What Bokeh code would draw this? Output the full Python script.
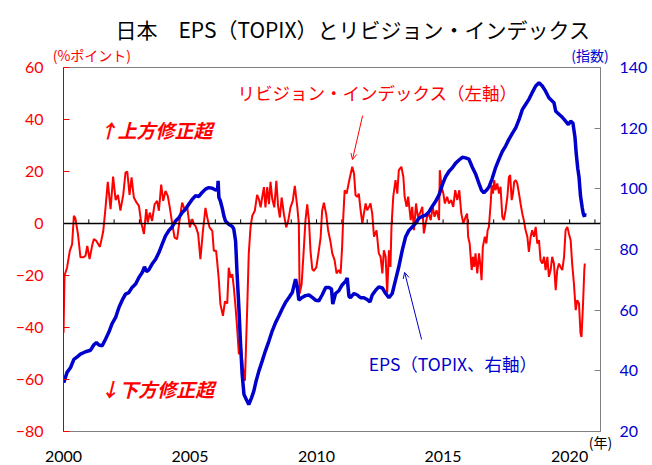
from bokeh.plotting import figure
from bokeh.models import Range1d, LinearAxis, FixedTicker, Span, Label, Arrow, OpenHead
from bokeh.embed import file_html
from bokeh.resources import INLINE

# ---- data ----
# Revision index (left axis, %pt): (year, value)
rev_points = [
    (2000.00, -42), (2000.04, -20), (2000.14, -17), (2000.25, -10.5), (2000.34, -8), (2000.41, 3),
    (2000.47, 2), (2000.57, -4), (2000.67, -13), (2000.78, -13), (2000.87, -12.4), (2000.94, -8.6),
    (2001.03, -13.7), (2001.13, -8.6), (2001.20, -6), (2001.30, -6.7), (2001.44, -9), (2001.57, -3),
    (2001.66, 6), (2001.75, 16), (2001.86, 5.5), (2001.96, 18), (2002.06, 9), (2002.15, 11),
    (2002.25, 5), (2002.36, 11), (2002.45, 19.6), (2002.52, 20), (2002.61, 11), (2002.69, 17.7),
    (2002.78, 10), (2002.89, 8), (2002.98, 6.8), (2003.07, 0.4), (2003.18, -4), (2003.27, 5.5),
    (2003.33, 0.4), (2003.41, 4.2), (2003.50, 1), (2003.60, 7.4), (2003.70, 8.7), (2003.77, 4.9),
    (2003.86, 15), (2003.94, 8.7), (2004.03, 12.5), (2004.12, 10.6), (2004.20, 6.2), (2004.30, -0.3),
    (2004.39, -5.4), (2004.49, -6), (2004.60, 2.3), (2004.69, 8), (2004.78, 5.5), (2004.89, 6.2),
    (2004.99, -1.5), (2005.09, 1.7), (2005.15, -0.3), (2005.22, -1), (2005.32, -4), (2005.41, -13.7),
    (2005.51, -2.8), (2005.61, 6), (2005.68, 2.3), (2005.77, -1.5), (2005.88, -2.8), (2005.94, -10.5),
    (2006.03, -10.5), (2006.07, -14.4), (2006.14, -22), (2006.20, -31), (2006.30, -35.5), (2006.38, -30),
    (2006.47, -30.8), (2006.53, -17), (2006.60, -20.8), (2006.67, -19.5), (2006.73, -24.6), (2006.80, -32.3),
    (2006.86, -40), (2006.93, -50.3), (2006.99, -45.1), (2007.09, -55.4), (2007.17, -60.5), (2007.26, -32.3),
    (2007.32, -11.8), (2007.39, -1.5), (2007.46, 3), (2007.56, 4.9), (2007.65, 11), (2007.72, 9.4),
    (2007.79, 6.2), (2007.85, 10), (2007.92, 14), (2007.98, 6.2), (2008.05, 14), (2008.12, 7.4),
    (2008.18, 16), (2008.25, 9.4), (2008.33, 6.2), (2008.41, 16.4), (2008.48, 6.7), (2008.55, 2.3),
    (2008.62, 10), (2008.71, 3.6), (2008.80, -1.5), (2008.88, 1), (2008.97, 6.2), (2009.06, 8.7),
    (2009.14, 14.5), (2009.24, 6.2), (2009.30, -0.3), (2009.33, -27), (2009.41, -23.3), (2009.50, -9.2),
    (2009.56, 1), (2009.63, 7.4), (2009.70, 1), (2009.76, -10.5), (2009.83, -17.5), (2009.89, -18.2),
    (2009.99, -16.9), (2010.07, -11.8), (2010.16, -5.4), (2010.22, 4.9), (2010.29, 8), (2010.38, 3.6),
    (2010.46, -2.8), (2010.55, -7), (2010.62, -11.5), (2010.71, -14), (2010.79, -19.2), (2010.88, -17.9),
    (2010.95, -19.2), (2011.01, -9), (2011.05, 1.3), (2011.11, 12.8), (2011.19, 11.5), (2011.24, 14.1),
    (2011.32, 17.9), (2011.41, 21.8), (2011.48, 19.2), (2011.54, 10.9), (2011.61, 10.3), (2011.67, 11.5),
    (2011.74, 5.1), (2011.81, 0), (2011.87, 3.8), (2011.94, 7.7), (2012.00, 5.1), (2012.07, 6.4),
    (2012.13, 7.7), (2012.20, 3.8), (2012.27, -5.1), (2012.37, -2.6), (2012.46, -11.5), (2012.53, -12.8),
    (2012.60, -19.2), (2012.66, -10.3), (2012.73, -12.8), (2012.79, -26.9), (2012.86, -10.3), (2012.92, -16.7),
    (2012.96, -1.3), (2013.03, 10.3), (2013.12, 16.7), (2013.19, 11.5), (2013.25, 20.5), (2013.35, 21.8),
    (2013.43, 17.9), (2013.48, 10.3), (2013.56, 6.4), (2013.62, 10.3), (2013.72, 1.3), (2013.78, 6.4),
    (2013.85, -2.6), (2013.93, 7.7), (2014.00, 2.6), (2014.08, 3.8), (2014.18, 6.4), (2014.24, -3.8),
    (2014.31, 0), (2014.37, 2.6), (2014.44, 3.8), (2014.51, 1.3), (2014.59, 6.4), (2014.66, 2.6),
    (2014.74, 5.1), (2014.84, 1.3), (2014.87, 20.5), (2014.94, 14.1), (2015.01, 11.5), (2015.07, 7.7),
    (2015.16, 10.3), (2015.23, 7.7), (2015.32, 9), (2015.40, 6.4), (2015.48, 12.8), (2015.56, 9),
    (2015.64, 12.8), (2015.72, 3.8), (2015.80, 0), (2015.89, 2.6), (2015.95, 3.8), (2015.99, -5.1),
    (2016.05, -7.7), (2016.13, -17.9), (2016.18, -12.8), (2016.23, -16.7), (2016.28, -11.5), (2016.35, -19.2),
    (2016.42, -11.5), (2016.48, -16.7), (2016.52, -21.8), (2016.57, -9), (2016.65, -5.1), (2016.71, -7.7),
    (2016.76, -2.6), (2016.81, -1.3), (2016.88, 7.7), (2016.92, 14.7), (2016.97, 11.5), (2017.02, 16.7),
    (2017.07, 12.8), (2017.14, 15.4), (2017.21, 11.5), (2017.27, 14.1), (2017.34, 2.6), (2017.40, 1.3),
    (2017.47, 5.1), (2017.54, 10.3), (2017.60, 17.9), (2017.65, 18.6), (2017.71, 9), (2017.76, 11.5),
    (2017.81, 16.0), (2017.87, 16.7), (2017.93, 15.4), (2018.00, 11.5), (2018.06, 7.7), (2018.13, 3.8),
    (2018.19, 1.3), (2018.26, -2.6), (2018.33, -5.1), (2018.39, -10.9), (2018.46, -5.1), (2018.52, -2.6),
    (2018.59, -5.1), (2018.66, -1.3), (2018.72, -7.7), (2018.79, -6.4), (2018.85, -14.1), (2018.92, -15.4),
    (2018.99, -12.8), (2019.05, -17.9), (2019.12, -12.8), (2019.18, -20.5), (2019.25, -17.9), (2019.31, -12.8),
    (2019.38, -15.4), (2019.45, -25.6), (2019.51, -17.9), (2019.58, -15.4), (2019.64, -16.7), (2019.71, -17.9),
    (2019.78, -12.8), (2019.84, -2.6), (2019.91, -1.3), (2019.97, -3.8), (2020.04, -6.4), (2020.10, -15.4),
    (2020.17, -23.1), (2020.24, -33.3), (2020.30, -29.5), (2020.37, -30.8), (2020.43, -42.3), (2020.47, -43.6),
    (2020.53, -30.8), (2020.58, -17.9), (2020.60, -15.4),
]
rev_year = [pt[0] for pt in rev_points]
rev_val = [pt[1] for pt in rev_points]

# EPS (TOPIX), right axis index: (year, value)
eps_points = [
    (2000.01, 36.1), (2000.14, 39.5), (2000.28, 41.1), (2000.41, 43.8), (2000.54, 44.6), (2000.67, 45.5),
    (2000.87, 46.3), (2001.07, 46.8), (2001.20, 48.6), (2001.30, 49.3), (2001.40, 48.5), (2001.53, 48.3),
    (2001.66, 50.4), (2001.79, 52.7), (2001.92, 55.6), (2002.06, 57.6), (2002.19, 60.9), (2002.32, 63.3),
    (2002.45, 65.3), (2002.58, 65.8), (2002.71, 67.5), (2002.85, 68.6), (2002.98, 70.8), (2003.11, 72.4),
    (2003.20, 74.3), (2003.28, 72.7), (2003.37, 73.3), (2003.50, 75.2), (2003.64, 76.8), (2003.77, 79.0),
    (2003.90, 81.8), (2004.03, 84.5), (2004.16, 86.2), (2004.30, 87.5), (2004.43, 89.4), (2004.56, 90.5),
    (2004.69, 92.2), (2004.82, 93.3), (2004.95, 94.9), (2005.09, 96.6), (2005.22, 97.7), (2005.35, 97.5),
    (2005.48, 98.8), (2005.61, 99.9), (2005.74, 100.4), (2005.88, 100.2), (2006.01, 99.6), (2006.09, 99.8),
    (2006.11, 102.6), (2006.14, 97.2), (2006.20, 96.0), (2006.27, 93.7), (2006.34, 91.0), (2006.40, 89.4),
    (2006.53, 88.3), (2006.67, 87.6), (2006.73, 86.7), (2006.80, 82.8), (2006.86, 71.9), (2006.93, 60.9),
    (2006.99, 49.9), (2007.06, 38.9), (2007.13, 32.3), (2007.22, 30.6), (2007.32, 28.9), (2007.43, 31.1),
    (2007.52, 33.3), (2007.61, 36.6), (2007.72, 39.9), (2007.85, 43.2), (2007.98, 46.6), (2008.12, 49.9),
    (2008.25, 53.2), (2008.38, 55.9), (2008.51, 58.1), (2008.64, 60.4), (2008.77, 62.5), (2008.91, 64.2),
    (2009.04, 65.8), (2009.17, 70.2), (2009.24, 67.5), (2009.30, 63.3), (2009.43, 64.2), (2009.56, 64.8),
    (2009.70, 65.0), (2009.83, 64.2), (2009.96, 63.3), (2010.09, 63.1), (2010.22, 65.0), (2010.36, 67.5),
    (2010.49, 67.5), (2010.59, 67.0), (2010.64, 62.0), (2010.75, 65.5), (2010.88, 66.4), (2011.01, 68.3),
    (2011.15, 69.6), (2011.21, 70.6), (2011.28, 64.6), (2011.34, 64.1), (2011.48, 65.5), (2011.61, 65.0),
    (2011.74, 64.1), (2011.87, 64.1), (2012.00, 63.5), (2012.11, 62.7), (2012.20, 65.0), (2012.33, 66.5),
    (2012.46, 67.7), (2012.60, 67.3), (2012.73, 65.5), (2012.86, 64.1), (2012.99, 65.5), (2013.12, 69.9),
    (2013.25, 74.3), (2013.39, 79.9), (2013.52, 84.2), (2013.65, 86.3), (2013.78, 87.4), (2013.91, 88.6),
    (2014.04, 90.3), (2014.18, 91.0), (2014.31, 91.3), (2014.44, 92.4), (2014.57, 94.2), (2014.70, 95.8),
    (2014.84, 98.0), (2014.97, 101.3), (2015.10, 104.0), (2015.23, 105.7), (2015.36, 106.9), (2015.49, 108.4),
    (2015.63, 109.5), (2015.76, 110.4), (2015.89, 110.2), (2016.02, 109.8), (2016.15, 107.2), (2016.28, 105.0),
    (2016.42, 101.7), (2016.52, 99.5), (2016.61, 98.7), (2016.71, 99.5), (2016.81, 100.6), (2016.94, 103.4),
    (2017.07, 106.9), (2017.21, 109.8), (2017.34, 112.3), (2017.47, 114.1), (2017.60, 116.3), (2017.73, 118.2),
    (2017.87, 120.1), (2018.00, 122.8), (2018.13, 126.1), (2018.26, 127.8), (2018.39, 129.5), (2018.52, 131.7),
    (2018.66, 133.9), (2018.79, 135.0), (2018.92, 133.9), (2019.05, 132.2), (2019.18, 130.0), (2019.38, 128.4),
    (2019.45, 125.6), (2019.58, 124.6), (2019.71, 123.6), (2019.84, 122.3), (2019.95, 121.2), (2020.04, 122.3),
    (2020.13, 121.7), (2020.21, 117.1), (2020.26, 111.7), (2020.32, 106.8), (2020.37, 104.0), (2020.43, 97.6),
    (2020.50, 93.7), (2020.54, 91.8), (2020.59, 90.8), (2020.60, 92.0),
]
eps_year = [pt[0] for pt in eps_points]
eps_val = [pt[1] for pt in eps_points]

left_ticks = [-80, -60, -40, -20, 0, 20, 40, 60]
right_ticks = [20, 40, 60, 80, 100, 120, 140]
year_labels = [2000, 2005, 2010, 2015, 2020]
year_ticks = list(range(2001, 2022))
unit_left_at = 2001.12

TITLE = "日本　EPS（TOPIX）とリビジョン・インデックス"
UNIT_LEFT = "(%ポイント)"
UNIT_RIGHT = "(指数)\u3000\u2002"
UNIT_X = "(年)"
RED = "#ff0000"
BLUE = "#0000cc"
JP = "Noto Sans CJK JP"
NUM = "Lato"

p = figure(width=652, height=465, output_backend="svg", toolbar_location=None,
           x_range=Range1d(2000, 2021.22), y_range=Range1d(-80, 60),
           min_border_left=63, min_border_right=52, min_border_top=67, min_border_bottom=34,
           background_fill_color="white", border_fill_color="white")
p.title.text = TITLE
p.title.text_font = JP
p.title.text_font_size = "21px"
p.title.text_font_style = "normal"
p.title.text_color = "black"
p.title.align = "left"
p.title.offset = 52
p.title.standoff = -5
p.xgrid.visible = False
p.ygrid.visible = False
p.outline_line_color = "#808080"
p.outline_line_width = 1

# bottom axis (labels only) + unit "(年)"
p.xaxis.ticker = FixedTicker(ticks=year_labels)
p.xaxis.major_tick_in = 0
p.xaxis.major_tick_out = 0
p.xaxis.minor_tick_line_color = None
p.xaxis.axis_line_color = "#808080"
p.xaxis.major_label_text_color = "black"
p.xaxis.major_label_text_font = NUM
p.xaxis.major_label_text_font_size = "16px"
p.xaxis.major_label_standoff = 19
p.xaxis.axis_label = UNIT_X
p.xaxis.axis_label_text_font = JP
p.xaxis.axis_label_text_font_size = "14px"
p.xaxis.axis_label_text_font_style = "normal"
p.xaxis.axis_label_text_color = "black"
p.xaxis.axis_label_align = "end"
p.xaxis.axis_label_standoff = -33

# top helper axis carrying the unit labels
ax_t = LinearAxis(ticker=FixedTicker(ticks=[unit_left_at]),
                  major_label_overrides={unit_left_at: UNIT_LEFT})
ax_t.axis_line_color = None
ax_t.major_tick_line_color = None
ax_t.minor_tick_line_color = None
ax_t.major_tick_in = 0
ax_t.major_tick_out = 0
ax_t.major_label_standoff = 3
ax_t.major_label_text_color = RED
ax_t.major_label_text_font = JP
ax_t.major_label_text_font_size = "14px"
ax_t.axis_label = UNIT_RIGHT
ax_t.axis_label_text_color = BLUE
ax_t.axis_label_text_font = JP
ax_t.axis_label_text_font_size = "14px"
ax_t.axis_label_text_font_style = "normal"
ax_t.axis_label_align = "end"
ax_t.axis_label_standoff = -23
p.add_layout(ax_t, "above")

# left axis
p.yaxis.ticker = FixedTicker(ticks=left_ticks)
p.yaxis.major_tick_in = 6
p.yaxis.major_tick_out = 0
p.yaxis.minor_tick_line_color = None
p.yaxis.axis_line_color = "#c00000"
p.yaxis.major_tick_line_color = RED
p.yaxis.major_label_text_color = RED
p.yaxis.major_label_text_font = NUM
p.yaxis.major_label_text_font_size = "16px"
p.yaxis.major_label_standoff = 20

# right axis
p.extra_y_ranges = {"eps": Range1d(20, 140)}
ax_r = LinearAxis(y_range_name="eps", ticker=FixedTicker(ticks=right_ticks))
ax_r.major_tick_in = 6
ax_r.major_tick_out = 0
ax_r.minor_tick_line_color = None
ax_r.axis_line_color = "#808080"
ax_r.major_tick_line_color = "#808080"
ax_r.major_label_text_color = BLUE
ax_r.major_label_text_font = NUM
ax_r.major_label_text_font_size = "16px"
ax_r.major_label_standoff = 19
p.add_layout(ax_r, "right")

# zero line with yearly ticks
p.add_layout(Span(location=0, dimension="width", line_color="black", line_width=1.5))
p.segment(x0=year_ticks, y0=[0] * len(year_ticks), x1=year_ticks, y1=[1.6] * len(year_ticks),
          line_color="black", line_width=1)

# series
p.line(rev_year, rev_val, line_color=RED, line_width=2)
p.line(eps_year, eps_val, y_range_name="eps", line_color=BLUE, line_width=3.5)

# annotations inside the frame
p.add_layout(Label(x=2006.88, y=50.4, text="リビジョン・インデックス（左軸）", text_align="left",
                   text_baseline="middle", text_font=JP, text_font_size="17.5px", text_color=RED))
p.add_layout(Label(x=2001.38, y=36.3, text="↑上方修正超", text_align="left",
                   text_baseline="middle", text_font=JP, text_font_size="19px",
                   text_font_style="bold italic", text_color=RED))
p.add_layout(Label(x=2001.45, y=-63.5, text="↓下方修正超", text_align="left",
                   text_baseline="middle", text_font=JP, text_font_size="19px",
                   text_font_style="bold italic", text_color=RED))
p.add_layout(Label(x=2012.06, y=-53.8, text="EPS（TOPIX、右軸）", text_align="left",
                   text_baseline="middle", text_font=JP, text_font_size="17.5px", text_color=BLUE))

p.add_layout(Arrow(end=OpenHead(size=6, line_color=RED, line_width=1),
                   x_start=2011.82, y_start=41.5, x_end=2011.42, y_end=24.6,
                   line_color=RED, line_width=1))
p.add_layout(Arrow(end=OpenHead(size=6, line_color=BLUE, line_width=1),
                   x_start=2014.15, y_start=-44.6, x_end=2013.48, y_end=-18.8,
                   line_color=BLUE, line_width=1))

open("out.html", "w").write(file_html(p, INLINE))
